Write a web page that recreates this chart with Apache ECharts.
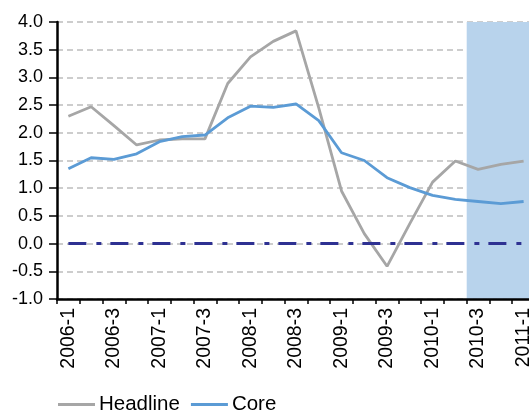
<!doctype html>
<html lang="en">
<head>
    <meta charset="utf-8">
    <title>Headline vs Core</title>
    <script src="https://cdn.jsdelivr.net/npm/echarts@6/dist/echarts.min.js"></script>
    <style>
        html, body { margin: 0; padding: 0; background: #fff; }
        #main { width: 529px; height: 410px; }
    </style>
</head>
<body>
    <div id="main"></div>
    <script>
        // quarters, 2006-1 .. 2011-1
        var quarters = ['2006-1', '2006-2', '2006-3', '2006-4',
            '2007-1', '2007-2', '2007-3', '2007-4',
            '2008-1', '2008-2', '2008-3', '2008-4',
            '2009-1', '2009-2', '2009-3', '2009-4',
            '2010-1', '2010-2', '2010-3', '2010-4',
            '2011-1'];
        var headline = [2.30, 2.47, 2.13, 1.78, 1.87, 1.89, 1.89, 2.89, 3.37, 3.65, 3.84,
            2.45, 0.95, 0.18, -0.41, 0.36, 1.11, 1.49, 1.34, 1.43, 1.49];
        var core = [1.35, 1.55, 1.52, 1.62, 1.84, 1.93, 1.96, 2.27, 2.48, 2.46, 2.52,
            2.22, 1.64, 1.50, 1.19, 1.01, 0.87, 0.80, 0.76, 0.72, 0.76];
        var shadeFrom = '2010-3';
        var shadeTo = '2011-1';

        var font = 'Liberation Sans, Arial, sans-serif';
        var myChart = echarts.init(document.getElementById('main'));

        // band edges of the shaded quarters, on a hidden 0..n value axis
        var bandStart = quarters.indexOf(shadeFrom);
        var bandEnd = quarters.indexOf(shadeTo) + 1;

        var option = {
            animation: false,
            textStyle: { fontFamily: font, color: '#000' },
            // plot runs a little past the right edge of the picture (cropped)
            grid: {
                left: 57, right: -6, top: 22, bottom: 111,
                containLabel: false,
                outerBoundsMode: 'none'
            },
            legend: {
                left: 53,
                top: 389,
                icon: 'rect',
                itemWidth: 37,
                itemHeight: 3,
                itemGap: 11,
                textStyle: { fontSize: 20.5, color: '#000', fontFamily: font, padding: [0, 0, 0, -1] },
                data: ['Headline', 'Core']
            },
            xAxis: [{
                type: 'category',
                data: quarters,
                boundaryGap: true,
                axisLine: { onZero: false, lineStyle: { color: '#000', width: 2.5 } },
                axisTick: { show: true, length: 5, interval: 0, lineStyle: { color: '#000', width: 1.5 } },
                axisLabel: {
                    interval: 1,
                    rotate: 90,
                    fontSize: 19.5,
                    color: '#000',
                    fontFamily: font,
                    margin: 9
                },
                splitLine: { show: false },
                z: 5
            }, {
                type: 'value',
                min: 0,
                max: quarters.length,
                show: false
            }],
            yAxis: {
                type: 'value',
                min: -1,
                max: 4,
                interval: 0.5,
                axisLine: { show: true, lineStyle: { color: '#000', width: 2.5 } },
                axisTick: { show: true, length: 8, lineStyle: { color: '#000', width: 1.5 } },
                axisLabel: {
                    fontSize: 18,
                    color: '#000',
                    fontFamily: font,
                    margin: 14,
                    formatter: function (v) { return v.toFixed(1); }
                },
                splitLine: {
                    show: true,
                    lineStyle: { color: '#bdbdbd', width: 1.5, type: [6, 4] }
                }
            },
            series: [{
                name: 'shade',
                type: 'line',
                xAxisIndex: 1,
                data: [],
                z: 1,
                markArea: {
                    silent: true,
                    itemStyle: { color: '#b8d3ec' },
                    data: [[{ xAxis: bandStart }, { xAxis: bandEnd }]]
                }
            },
            {
                name: 'Headline',
                type: 'line',
                data: headline,
                symbol: 'none',
                lineStyle: { color: '#a6a6a6', width: 2.8 },
                itemStyle: { color: '#a6a6a6' },
                z: 3,
                markLine: {
                    silent: true,
                    symbol: 'none',
                    label: { show: false },
                    lineStyle: { color: '#2e3192', width: 3, type: [18, 10, 5, 9] },
                    // zero line spans first to last quarter
                    data: [[
                        { xAxis: quarters[0], yAxis: 0 },
                        { xAxis: quarters[quarters.length - 1], yAxis: 0 }
                    ]]
                }
            },
            {
                name: 'Core',
                type: 'line',
                data: core,
                symbol: 'none',
                lineStyle: { color: '#5b9bd5', width: 2.8 },
                itemStyle: { color: '#5b9bd5' },
                z: 4
            }]
        };

        myChart.setOption(option);
    </script>
</body>
</html>
